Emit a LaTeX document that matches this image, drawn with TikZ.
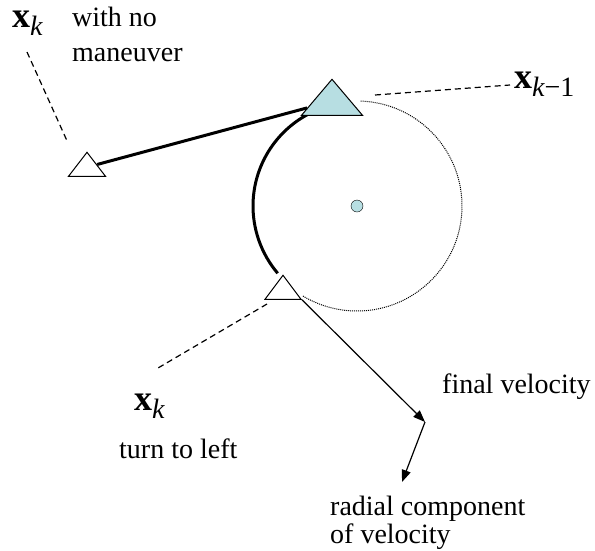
\documentclass[tikz,border=0pt]{standalone}
\usepackage{fontspec}
\setmainfont{Liberation Serif}
\usetikzlibrary{shapes.geometric,arrows.meta}
\definecolor{tcyan}{RGB}{183,222,226}
\newcommand{\xk}[1]{{\fontsize{36}{36}\selectfont\bfseries x}\raisebox{-8pt}{\itshape #1}}

\begin{document}
\begin{tikzpicture}[
  x=1pt, y=-1pt,
  font=\fontsize{28}{35}\selectfont,
  tri/.style={draw, isosceles triangle, isosceles triangle stretches,
    shape border rotate=90, inner sep=0pt, line width=1pt, fill=white},
  trk/.style={line width=3pt},
  lead/.style={line width=1.2pt, dash pattern=on 6pt off 4pt},
  vel/.style={line width=1.2pt, -{Triangle[length=12pt,width=9pt]}},
  lbl/.style={inner sep=0pt, anchor=base west}
]
\useasboundingbox (0,0) rectangle (595,550);

% turning circle
\node[circle, draw, fill=tcyan, minimum size=12pt, inner sep=0pt] (ctr) at (357,206) {};
\draw[line width=1pt, dash pattern=on 1pt off 1pt]
  (ctr) ++(-88:105) arc[start angle=-88, end angle=121, radius=105];
\draw[trk] (ctr) ++(241.7:104) arc[start angle=241.7, end angle=139.7, radius=104];

% positions
\node[tri, fill=tcyan, minimum width=61pt, minimum height=36pt, anchor=apex] (prev) at (332,78) {};
\node[tri, minimum width=37pt, minimum height=24pt, anchor=apex] (noman) at (87,151) {};
\node[tri, minimum width=36pt, minimum height=24pt, anchor=apex] (turn) at (283,274) {};

\draw[trk] (noman) -- (prev);

% labels (base of the last line)
\node[lbl] (xnm) at (12,27) {\xk{k}};
\node[lbl, align=left] (nomtxt) at (72,61) {with no\\maneuver};
\node[lbl] (xprev) at (514,88) {\xk{k\upshape−1}};
\node[lbl] (xturn) at (134,410) {\xk{k}};
\node[lbl] (turntxt) at (119,458) {turn to left};
\node[lbl] (fvel) at (442,393) {final velocity};
\node[lbl, align=left, font=\fontsize{28}{28}\selectfont] (rvel) at (330,543)
  {radial component\\of velocity};

% leaders
\coordinate (ld1a) at (27,52);  \coordinate (ld1b) at (68,143);
\coordinate (ld2a) at (375,95); \coordinate (ld2b) at (510,85);
\coordinate (ld3a) at (267,304); \coordinate (ld3b) at (158,368);
\draw[lead] (ld1a) -- (ld1b);
\draw[lead] (ld2a) -- (ld2b);
\draw[lead] (ld3a) -- (ld3b);

% velocity
\coordinate (vend) at (425,422);
\coordinate (rend) at (402,482);
\draw[vel] (turn.right corner) -- (vend);
\draw[vel] (vend) -- (rend);
\end{tikzpicture}
\end{document}
